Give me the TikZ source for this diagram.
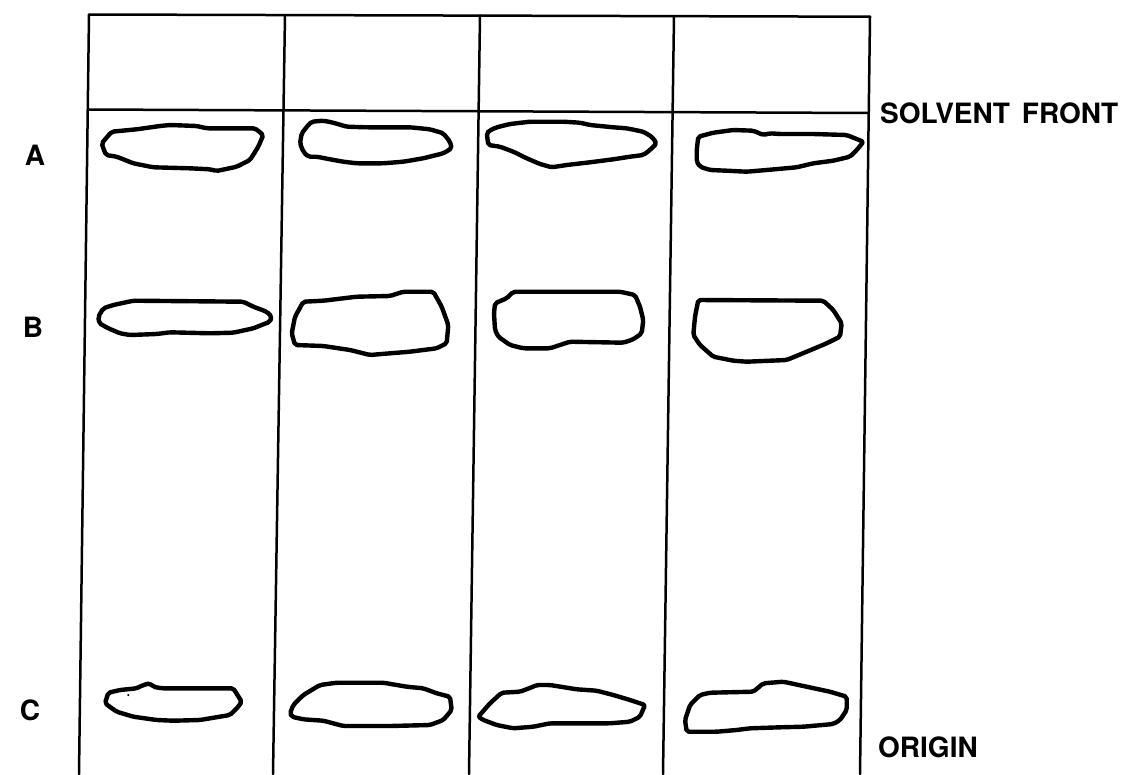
\documentclass[tikz,border=0pt]{standalone}
\usepackage{fontspec}
\setmainfont{TeX Gyre Heros}
\begin{document}
\begin{tikzpicture}[x=1pt,y=-1pt,
  gridline/.style={line width=2.5pt, line cap=round},
  spot/.style={line width=4.4pt, line join=round, rounded corners=2pt},
  lab/.style={font=\fontsize{28}{30}\selectfont\bfseries, inner sep=0pt}]
\useasboundingbox[fill=white] (0,0) rectangle (1131,774);
% grid corners
\coordinate (t1) at (89,14.5);  \coordinate (b1) at (79,774);
\coordinate (t2) at (285,15);   \coordinate (b2) at (273,774);
\coordinate (t3) at (480,15.5); \coordinate (b3) at (469,774);
\coordinate (t4) at (674,16);   \coordinate (b4) at (663,774);
\coordinate (t5) at (870,16.7); \coordinate (b5) at (860,774);
\coordinate (f1) at (88,109.5); \coordinate (f5) at (868.6,113);
\draw[gridline] (t1) -- (t5);
\draw[gridline] (f1) -- (f5);
\foreach \i in {1,...,5} \draw[gridline] (t\i) -- (b\i);
% row A
\draw[spot] (101.7,143.3) -- (111.7,131.7) -- (136.7,129.3) -- (160,126) -- (170,125) -- (196.7,126) -- (206.7,128.3) -- (255,128.3) -- (263.3,135) -- (258.3,146.7) -- (250,160) -- (236.7,166.7) -- (216.7,171) -- (210,169.3) -- (190,168.3) -- (153.3,167.3) -- (133.3,163.3) -- (116.7,156.7) -- (106,155) -- (103.3,148.3) -- cycle;
\draw[spot] (311.7,121.7) -- (323.3,120.7) -- (333.3,122.7) -- (346.7,126.7) -- (366.7,127.3) -- (410,127.3) -- (430,129.3) -- (443.3,133.3) -- (450,141.7) -- (451.7,148.3) -- (443.3,153.3) -- (423.3,158.3) -- (403.3,161.7) -- (383.3,163.3) -- (356.7,163.3) -- (343.3,161.7) -- (330,159.3) -- (316.7,156.7) -- (308.3,156.7) -- (303.3,151.7) -- (300,143.3) -- (301.7,133.3) -- (308.3,125) -- cycle;
\draw[spot] (486.7,133.3) -- (488.3,145) -- (500,146.7) -- (513.3,151.7) -- (526.7,158.3) -- (540,164) -- (551.7,167.3) -- (566.7,165) -- (590,162.3) -- (613.3,159.3) -- (630,156.7) -- (643.3,155) -- (650,150) -- (656.7,143.3) -- (651.7,136.7) -- (643.3,131.7) -- (626.7,128.3) -- (613.3,127.3) -- (590,125) -- (580,122.7) -- (563.3,121.7) -- (530,121.7) -- (510,124) -- (496.7,127.3) -- (489.3,130.7) -- cycle;
\draw[spot] (698.3,136.7) -- (713.3,132.7) -- (733.3,130) -- (753.3,130.7) -- (763.3,135) -- (770,133.3) -- (780,134) -- (813.3,134) -- (846.7,135) -- (863.3,141.7) -- (858.3,148.3) -- (850,156.7) -- (833.3,160.7) -- (813.3,163.3) -- (796.7,167.3) -- (766.7,170) -- (746.7,171.7) -- (726.7,170.7) -- (710,170) -- (700,166.7) -- (696.7,161.7) -- (696.7,150) -- cycle;
% row B
\draw[spot] (98.3,316.7) -- (103.3,308.3) -- (113.3,305) -- (133.3,300.7) -- (243.3,301.7) -- (253.3,306.7) -- (266.7,311.7) -- (271.7,316.7) -- (270,321.7) -- (253.3,328.3) -- (233.3,332.7) -- (210,333.3) -- (170,332.3) -- (156.7,334) -- (130,335) -- (120,333.3) -- (108.3,328.3) -- (99.3,323.3) -- cycle;
\draw[spot] (303.3,301.7) -- (323.3,300.7) -- (356.7,296.7) -- (390,296) -- (403.3,291.7) -- (433.3,291.7) -- (441.7,306.7) -- (448.3,325) -- (446.7,343.3) -- (436.7,348.3) -- (410,351.7) -- (390,353.3) -- (370,355) -- (350,350) -- (323.3,346) -- (295,345) -- (291.7,333.3) -- (295,316.7) -- cycle;
\draw[spot] (495,303.3) -- (506.7,298.3) -- (513.3,291.7) -- (620,291.7) -- (635,295) -- (640,306.7) -- (643.3,320) -- (641.7,333.3) -- (633.3,339.3) -- (623.3,342.7) -- (570,341.7) -- (550,348.3) -- (523.3,348.3) -- (510,345) -- (498.3,336.7) -- (495,330) -- (494,313.3) -- cycle;
\draw[spot] (698.3,300) -- (823.3,300.7) -- (833.3,310) -- (841.7,323.3) -- (840,336.7) -- (826.7,343.3) -- (806.7,351.7) -- (786.7,360) -- (746.7,361.7) -- (733.3,360.7) -- (713.3,356.7) -- (700,345) -- (693.3,335) -- (695,316.7) -- cycle;
% row C
\draw[spot] (105,703.3) -- (108.3,692.7) -- (120,690) -- (136.7,688.3) -- (143.3,685) -- (150,683.3) -- (153.3,686.7) -- (161.7,688.3) -- (233.3,688.3) -- (241.7,701.7) -- (238.3,706.7) -- (230,715) -- (200,720) -- (173.3,720.7) -- (156.7,720) -- (133.3,716.7) -- (116.7,711.7) -- cycle;
\fill (128.3,695) circle (1.2pt);
\draw[spot] (290,713.3) -- (293.3,705) -- (303.3,695) -- (320,685) -- (336.7,682.7) -- (383.3,682.7) -- (406.7,686.7) -- (423.3,688.3) -- (436.7,693.3) -- (450,696.7) -- (451.7,710) -- (443.3,720) -- (430,725) -- (390,726) -- (343.3,726) -- (323.3,720.7) -- (303.3,719.3) -- (291.7,716.7) -- cycle;
\draw[spot] (478.3,716.7) -- (490,703.3) -- (501.7,692.7) -- (520,691.7) -- (531.7,687.3) -- (536.7,685) -- (550,685) -- (576.7,689.3) -- (596.7,690.7) -- (613.3,695) -- (630,700) -- (645,705) -- (640,716.7) -- (630,721.7) -- (610,723.3) -- (550,723.3) -- (533.3,726.7) -- (513.3,728.3) -- (496.7,725) -- (483.3,720) -- cycle;
\draw[spot] (690,705) -- (700,695) -- (710,692.7) -- (753.3,691.7) -- (763.3,683.3) -- (783.3,681.7) -- (803.3,686) -- (830,691.7) -- (846.7,696.7) -- (846.7,710) -- (840,720) -- (833.3,724) -- (803.3,726.7) -- (780,727.3) -- (750,728.3) -- (736.7,730) -- (716.7,731.7) -- (686.7,731.7) -- (685,720) -- cycle;
% labels
\node[lab] (la) at (35,155) {A};
\node[lab] (lb) at (33,327) {B};
\node[lab] (lc) at (30,710) {C};
\node[lab, anchor=west] (sf) at (880,113) {SOLVENT\hspace{0.15em} FRONT};
\node[lab, anchor=west] (or) at (878,747) {ORIGIN};
\end{tikzpicture}
\end{document}
